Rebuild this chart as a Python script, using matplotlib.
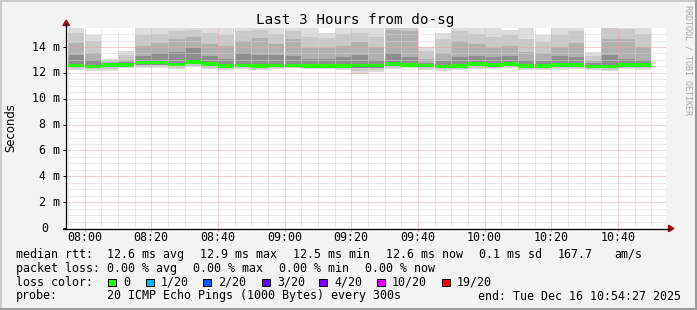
import matplotlib
matplotlib.use('Agg')
import matplotlib.pyplot as plt
import matplotlib.dates as mdates
from matplotlib.ticker import MultipleLocator
from matplotlib.patches import Rectangle, Polygon
from matplotlib.lines import Line2D
import numpy as np
import pandas as pd

# 5 minūšu intervāli (smokeping dati)
bar_start = pd.date_range('2025-12-16 07:55', periods=35, freq='5min')

median = [12.57, 12.50, 12.60, 12.63, 12.80, 12.79, 12.66, 12.84, 12.68, 12.53,
          12.57, 12.53, 12.58, 12.58, 12.55, 12.52, 12.54, 12.58, 12.58, 12.68,
          12.63, 12.58, 12.50, 12.55, 12.68, 12.63, 12.70, 12.55, 12.55, 12.60,
          12.63, 12.50, 12.50, 12.62, 12.62]
hi = [15.6, 14.9, 13.1, 13.7, 15.6, 15.6, 15.6, 15.6, 15.6, 15.6,
      15.6, 15.6, 15.6, 15.6, 15.6, 15.1, 15.6, 15.6, 15.6, 15.6,
      15.6, 14.0, 15.1, 15.6, 15.6, 15.6, 15.3, 15.6, 14.9, 15.6,
      15.6, 13.6, 15.6, 15.6, 15.6]
p90 = [15.05, 14.5, 13.0, 13.4, 14.9, 15.0, 15.2, 15.3, 15.1, 14.9,
       15.2, 15.3, 15.0, 15.2, 14.8, 14.7, 15.0, 15.1, 14.8, 15.5,
       15.5, 13.7, 14.6, 15.2, 15.0, 14.8, 14.9, 14.6, 14.4, 14.9,
       15.2, 13.3, 15.5, 15.4, 15.0]
p75 = [14.3, 13.5, 12.85, 13.0, 14.1, 14.3, 14.6, 14.8, 14.2, 14.1,
       14.5, 14.7, 14.2, 14.6, 13.9, 13.9, 14.1, 14.4, 14.0, 15.3,
       15.2, 13.1, 13.5, 14.5, 14.2, 13.9, 14.1, 13.6, 13.5, 14.0,
       14.3, 12.9, 14.6, 14.6, 14.0]
p60 = [13.4, 13.0, 12.75, 12.85, 13.3, 13.5, 13.6, 13.9, 13.3, 13.1,
       13.5, 13.4, 13.4, 13.3, 13.1, 13.1, 13.2, 13.4, 13.0, 13.5,
       13.2, 12.8, 12.9, 13.2, 13.3, 13.2, 13.3, 13.0, 12.9, 13.3,
       13.2, 12.75, 13.4, 13.1, 13.0]
p25 = [12.45, 12.40, 12.45, 12.50, 12.60, 12.62, 12.50, 12.65, 12.52, 12.42,
       12.45, 12.40, 12.45, 12.47, 12.42, 12.40, 12.40, 12.35, 12.40, 12.52,
       12.50, 12.45, 12.38, 12.42, 12.52, 12.50, 12.55, 12.42, 12.40, 12.45,
       12.50, 12.38, 12.35, 12.48, 12.47]
p10 = [12.32, 12.28, 12.30, 12.42, 12.45, 12.50, 12.40, 12.55, 12.40, 12.33,
       12.37, 12.30, 12.37, 12.40, 12.35, 12.34, 12.30, 12.15, 12.22, 12.40,
       12.42, 12.32, 12.27, 12.33, 12.40, 12.40, 12.45, 12.33, 12.30, 12.35,
       12.40, 12.28, 12.25, 12.38, 12.35]
lo = [12.20, 12.15, 12.17, 12.35, 12.35, 12.40, 12.30, 12.45, 12.30, 12.25,
      12.30, 12.20, 12.30, 12.35, 12.30, 12.30, 12.20, 11.95, 12.05, 12.30,
      12.35, 12.20, 12.15, 12.25, 12.30, 12.30, 12.35, 12.25, 12.20, 12.25,
      12.30, 12.20, 12.15, 12.30, 12.25]

xtick_labels = ['08:00', '08:20', '08:40', '09:00', '09:20', '09:40', '10:00', '10:20', '10:40']
ytick_values = [0, 2, 4, 6, 8, 10, 12, 14]
ytick_labels = ['0', '2 m', '4 m', '6 m', '8 m', '10 m', '12 m', '14 m']

loss_labels = ['0', '1/20', '2/20', '3/20', '4/20', '10/20', '19/20']
loss_colors = ['#26ff00', '#00b8ff', '#0059ff', '#5e00ff', '#7e00ff', '#dd00ff', '#ff0000']

beigas = pd.Timestamp('2025-12-16 10:54:27')
sākums = beigas - pd.Timedelta(hours=3)

W, H = 697, 310
MONO = 'DejaVu Sans Mono'
FS = 8.4

def fx(x):
    return x / W

def fy(y):
    return 1 - y / H

fig = plt.figure(figsize=(W / 100, H / 100), dpi=100)
fig.patch.set_facecolor('#f3f3f3')

# rāmis
fig.add_artist(Rectangle((0, 0), 1, 1, transform=fig.transFigure, fill=False,
                         edgecolor='#cbcbcb', lw=2.9))
fig.add_artist(Line2D([fx(695.5), fx(695.5)], [0, 1], color='#9b9b9b', lw=2.2))
fig.add_artist(Line2D([0, 1], [fy(308.5), fy(308.5)], color='#9b9b9b', lw=2.2))

ax = fig.add_axes([fx(66), fy(228), 600 / W, 200 / H])
ax.set_facecolor('white')
for s in ax.spines.values():
    s.set_visible(False)

x = mdates.date2num(bar_start.to_pydatetime())
w = 5 / 1440
med = np.array(median)

ax.bar(x, np.array(hi) - np.array(lo), bottom=lo, width=w, align='edge', color='#dddddd', lw=0, zorder=1)
ax.bar(x, np.array(p90) - np.array(p10), bottom=p10, width=w, align='edge', color='#c9c9c9', lw=0, zorder=1)
ax.bar(x, np.array(p75) - np.array(p25), bottom=p25, width=w, align='edge', color='#b0b0b0', lw=0, zorder=1)
ax.bar(x, np.array(p60) - np.array(p25), bottom=p25, width=w, align='edge', color='#8e8e8e', lw=0, zorder=1)
ax.bar(x, 0.28, bottom=med - 0.14, width=w, align='edge', color=loss_colors[0], lw=0, zorder=3)

ax.set_xlim(mdates.date2num(sākums), mdates.date2num(beigas))
ax.set_ylim(0, 15.47)

ax.xaxis.set_major_locator(mdates.MinuteLocator(byminute=[0, 20, 40]))
ax.xaxis.set_minor_locator(mdates.MinuteLocator(byminute=range(0, 60, 5)))
ax.yaxis.set_major_locator(MultipleLocator(2))
ax.yaxis.set_minor_locator(MultipleLocator(0.5))
ax.set_axisbelow(False)
ax.grid(which='minor', color='#d2d2d2', ls=(0, (1, 1)), lw=0.72)
ax.grid(which='major', color='#eba3a3', ls=(0, (1, 1)), lw=0.72)
ax.tick_params(labelbottom=False, labelleft=False)
ax.tick_params(which='minor', length=0)
ax.tick_params(axis='y', which='major', length=2.2, width=0.72, color='black', direction='out')
ax.tick_params(axis='x', which='major', length=2.2, width=0.72, color='#c06060', direction='out')

xt = ax.get_xaxis_transform()
for lab in xtick_labels:
    t = mdates.date2num(pd.Timestamp('2025-12-16 ' + lab))
    ax.text(t, -9.7 / 200, lab, transform=xt, ha='center', va='center',
            family=MONO, fontsize=FS, clip_on=False)

yt = ax.get_yaxis_transform()
for v, lab in zip(ytick_values, ytick_labels):
    xpos = (48 - 66) / 600 if lab == '0' else (60 - 66) / 600
    ax.text(xpos, v, lab, transform=yt, ha='right', va='center',
            family=MONO, fontsize=FS, clip_on=False)

# asis ar bultām
fig.add_artist(Line2D([fx(66), fx(66)], [fy(229), fy(24)], color='black', lw=0.9))
fig.add_artist(Line2D([fx(63), fx(669)], [fy(228.5), fy(228.5)], color='black', lw=0.9))
fig.add_artist(Polygon([(fx(63), fy(25.5)), (fx(69.5), fy(25.5)), (fx(66.2), fy(20))],
                       closed=True, transform=fig.transFigure, color='#a01010'))
fig.add_artist(Polygon([(fx(668.5), fy(225.2)), (fx(668.5), fy(231.6)), (fx(674), fy(228.5))],
                       closed=True, transform=fig.transFigure, color='#a01010'))

fig.text(fx(355), fy(20), 'Last 3 Hours from do-sg', ha='center', va='center',
         family=MONO, fontsize=10.3)
fig.text(fx(11), fy(128), 'Seconds', rotation=90, ha='center', va='center',
         family='DejaVu Sans', fontsize=FS)
fig.text(fx(688), fy(60), 'RRDTOOL / TOBI OETIKER', rotation=-90, ha='center', va='center',
         family=MONO, fontsize=6, color='#a8a8a8')

rindas = [
    (254.3, [(16, 'median rtt:'), (107, '12.6 ms avg'), (200, '12.9 ms max'), (293, '12.5 ms min'),
             (386, '12.6 ms now'), (479, '0.1 ms sd'), (558, '167.7'), (614, 'am/s')]),
    (268.3, [(16, 'packet loss:'), (107, '0.00 % avg'), (193, '0.00 % max'), (279, '0.00 % min'),
             (365, '0.00 % now')]),
    (296, [(16, 'probe:'), (107, '20 ICMP Echo Pings (1000 Bytes) every 300s'),
           (478, 'end: Tue Dec 16 10:54:27 2025')]),
]
for y, daļas in rindas:
    for xx, s in daļas:
        fig.text(fx(xx), fy(y), s, ha='left', va='center', family=MONO, fontsize=FS)

fig.text(fx(16), fy(282), 'loss color:', ha='left', va='center', family=MONO, fontsize=FS)
box_x = [108, 146, 203, 262, 319, 377, 442]
for bx, lab, c in zip(box_x, loss_labels, loss_colors):
    fig.add_artist(Rectangle((fx(bx), fy(286)), 7.5 / W, 7.5 / H, transform=fig.transFigure,
                             facecolor=c, edgecolor='black', lw=0.7))
    fig.text(fx(bx + 15), fy(282), lab, ha='left', va='center', family=MONO, fontsize=FS)

fig.savefig('out.png', dpi=100, facecolor=fig.get_facecolor())
